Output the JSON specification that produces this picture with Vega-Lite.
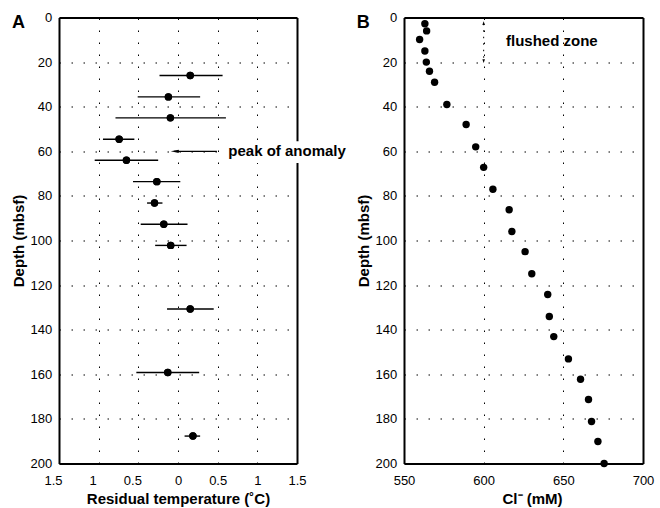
{
  "$schema": "https://vega.github.io/schema/vega-lite/v6.json",
  "padding": {"left": 11, "top": 11.5, "right": 4, "bottom": 2},
  "spacing": 107,
  "bounds": "flush",
  "config": {
    "font": "Liberation Sans",
    "view": {"stroke": null},
    "axis": {
      "domain": true, "domainColor": "#000000", "domainWidth": 2, "domainOpacity": 1,
      "labelFont": "Liberation Sans", "labelFontSize": 13, "labelColor": "#000000", "labelOverlap": false,
      "titleFont": "Liberation Sans", "titleFontSize": 15, "titleFontWeight": "bold", "titleColor": "#000000",
      "grid": true, "gridColor": "#000000", "gridDash": [1.5, 10.5], "gridWidth": 1, "gridOpacity": 1,
      "ticks": false, "titlePadding": 4, "tickCount": 30
    },
    "axisX": {"labelPadding": 11},
    "axisY": {"labelPadding": 7.3}
  },
  "datasets": {
    "temp": [
      {"depth": 26.0, "t": 0.154, "lo": -0.233, "hi": 0.562},
      {"depth": 35.6, "t": -0.121, "lo": -0.508, "hi": 0.279},
      {"depth": 45.0, "t": -0.096, "lo": -0.788, "hi": 0.604},
      {"depth": 54.6, "t": -0.742, "lo": -0.946, "hi": -0.55},
      {"depth": 64.0, "t": -0.65, "lo": -1.05, "hi": -0.25},
      {"depth": 73.6, "t": -0.267, "lo": -0.567, "hi": 0.029},
      {"depth": 83.2, "t": -0.296, "lo": -0.39, "hi": -0.196},
      {"depth": 92.7, "t": -0.179, "lo": -0.47, "hi": 0.12},
      {"depth": 102.2, "t": -0.092, "lo": -0.288, "hi": 0.108},
      {"depth": 130.7, "t": 0.154, "lo": -0.138, "hi": 0.45},
      {"depth": 159.2, "t": -0.129, "lo": -0.525, "hi": 0.267},
      {"depth": 187.7, "t": 0.188, "lo": 0.083, "hi": 0.279}
    ],
    "chloride": [
      {"depth": 2.8, "cl": 563.1},
      {"depth": 6.0, "cl": 564.2},
      {"depth": 9.9, "cl": 559.8},
      {"depth": 15.0, "cl": 563.1},
      {"depth": 20.0, "cl": 564.0},
      {"depth": 24.1, "cl": 566.0},
      {"depth": 29.0, "cl": 569.2},
      {"depth": 39.0, "cl": 576.9},
      {"depth": 48.0, "cl": 589.0},
      {"depth": 58.0, "cl": 595.0},
      {"depth": 67.2, "cl": 600.0},
      {"depth": 77.0, "cl": 605.8},
      {"depth": 86.2, "cl": 616.0},
      {"depth": 96.0, "cl": 617.7},
      {"depth": 105.0, "cl": 626.0},
      {"depth": 114.9, "cl": 630.2},
      {"depth": 124.2, "cl": 640.2},
      {"depth": 134.1, "cl": 641.2},
      {"depth": 143.1, "cl": 644.0},
      {"depth": 153.1, "cl": 653.2},
      {"depth": 162.2, "cl": 660.8},
      {"depth": 171.3, "cl": 665.8},
      {"depth": 181.2, "cl": 667.7},
      {"depth": 190.1, "cl": 671.7},
      {"depth": 200.0, "cl": 675.6}
    ]
  },
  "hconcat": [
    {
      "width": 238,
      "height": 446,
      "view": {"stroke": null},
      "resolve": {"axis": {"x": "independent", "y": "independent"}},
      "layer": [
        {
          "layer": [
            {
              "data": {"name": "temp"},
              "mark": {"type": "point", "filled": true, "size": 55, "color": "black", "opacity": 1},
              "encoding": {
                "x": {"field": "t", "type": "quantitative", "title": "Residual temperature (˚C)",
                      "scale": {"domain": [-1.5, 1.5], "nice": false, "zero": false},
                      "axis": {"values": [-1.5, -1, -0.5, 0, 0.5, 1, 1.5], "tickCount": 30, "labelOverlap": false, "labelFlush": false,
                               "labelExpr": "format(abs(datum.value), '')",
                               "labelOffset": {"condition": {"test": "datum.value < 0", "value": -6}, "value": 0}}},
                "y": {"field": "depth", "type": "quantitative", "title": "Depth (mbsf)",
                      "scale": {"domain": [0, 200], "reverse": true, "nice": false, "zero": false},
                      "axis": {"values": [0, 20, 40, 60, 80, 100, 120, 140, 160, 180, 200], "tickCount": 30, "labelOverlap": false}}
              }
            },
            {
              "data": {"values": [{}]},
              "mark": {"type": "rect", "fill": "white"},
              "encoding": {
                "x": {"datum": 0.58, "type": "quantitative"},
                "x2": {"datum": 2.4},
                "y": {"datum": 55.5, "type": "quantitative"},
                "y2": {"datum": 65.2}
              }
            },
            {
              "data": {"name": "temp"},
              "mark": {"type": "rule", "color": "black", "strokeWidth": 1.4},
              "encoding": {
                "x": {"field": "lo", "type": "quantitative", "title": "Residual temperature (˚C)"},
                "x2": {"field": "hi"},
                "y": {"field": "depth", "type": "quantitative", "title": "Depth (mbsf)"}
              }
            },
            {
              "data": {"name": "temp"},
              "mark": {"type": "point", "filled": true, "size": 55, "color": "black", "opacity": 1},
              "encoding": {
                "x": {"field": "t", "type": "quantitative", "title": "Residual temperature (˚C)"},
                "y": {"field": "depth", "type": "quantitative", "title": "Depth (mbsf)"}
              }
            },
            {
              "data": {"values": [{}]},
              "mark": {"type": "rule", "color": "black", "strokeWidth": 1.2},
              "encoding": {
                "x": {"datum": 0.49, "type": "quantitative"},
                "x2": {"datum": -0.05},
                "y": {"datum": 60, "type": "quantitative"}
              }
            },
            {
              "data": {"values": [{}]},
              "mark": {"type": "point", "filled": true, "color": "black", "opacity": 1, "size": 64, "shape": "M-1,0L1,-0.4L1,0.4Z"},
              "encoding": {
                "x": {"datum": -0.041, "type": "quantitative"},
                "y": {"datum": 60, "type": "quantitative"}
              }
            },
            {
              "data": {"values": [{}]},
              "mark": {"type": "text", "text": "peak of anomaly", "align": "left", "baseline": "middle", "fontSize": 15, "fontWeight": "bold", "font": "Liberation Sans", "color": "black"},
              "encoding": {
                "x": {"datum": 0.634, "type": "quantitative"},
                "y": {"datum": 60, "type": "quantitative"}
              }
            },
            {
              "data": {"values": [{}]},
              "mark": {"type": "text", "text": "A", "align": "left", "baseline": "alphabetic", "fontSize": 18, "fontWeight": "bold", "font": "Liberation Sans", "color": "black"},
              "encoding": {
                "x": {"datum": -2.091, "type": "quantitative"},
                "y": {"datum": 4.6, "type": "quantitative"}
              }
            }
          ]
        },
        {
          "data": {"name": "temp"},
          "mark": {"type": "point", "opacity": 0},
          "encoding": {
            "x": {"field": "t", "type": "quantitative",
                  "axis": {"orient": "top", "labels": false, "grid": false, "title": null, "values": [-1, -0.5, 0, 0.5, 1]}},
            "y": {"field": "depth", "type": "quantitative",
                  "axis": {"orient": "right", "labels": false, "grid": false, "title": null, "values": [20, 40, 60, 80, 100, 120, 140, 160, 180]}}
          }
        }
      ]
    },
    {
      "width": 239,
      "height": 446,
      "view": {"stroke": null},
      "resolve": {"axis": {"x": "independent", "y": "independent"}},
      "layer": [
        {
          "layer": [
            {
              "data": {"name": "chloride"},
              "mark": {"type": "point", "filled": true, "size": 55, "color": "black", "opacity": 1},
              "encoding": {
                "x": {"field": "cl", "type": "quantitative", "title": "Cl⁻ (mM)",
                      "scale": {"domain": [550, 700], "nice": false, "zero": false},
                      "axis": {"values": [550, 600, 650, 700], "titleX": 128, "labelOverlap": false, "labelFlush": false}},
                "y": {"field": "depth", "type": "quantitative", "title": "Depth (mbsf)",
                      "scale": {"domain": [0, 200], "reverse": true, "nice": false, "zero": false},
                      "axis": {"values": [0, 20, 40, 60, 80, 100, 120, 140, 160, 180, 200], "tickCount": 30, "labelOverlap": false}}
              }
            },
            {
              "data": {"values": [{}]},
              "mark": {"type": "rule", "color": "black", "strokeWidth": 1, "strokeDash": [1.5, 5]},
              "encoding": {
                "x": {"datum": 600, "type": "quantitative"},
                "y": {"datum": 2.8, "type": "quantitative"},
                "y2": {"datum": 19.4}
              }
            },
            {
              "data": {"values": [{}]},
              "mark": {"type": "point", "filled": true, "color": "black", "opacity": 1, "size": 14, "shape": "M0,-1L0.7,1L-0.7,1Z"},
              "encoding": {
                "x": {"datum": 600, "type": "quantitative"},
                "y": {"datum": 2.5, "type": "quantitative"}
              }
            },
            {
              "data": {"values": [{}]},
              "mark": {"type": "point", "filled": true, "color": "black", "opacity": 1, "size": 14, "shape": "M0,1L0.7,-1L-0.7,-1Z"},
              "encoding": {
                "x": {"datum": 600, "type": "quantitative"},
                "y": {"datum": 19.6, "type": "quantitative"}
              }
            },
            {
              "data": {"values": [{}]},
              "mark": {"type": "text", "text": "flushed zone", "align": "center", "baseline": "middle", "fontSize": 15, "fontWeight": "bold", "font": "Liberation Sans", "color": "black"},
              "encoding": {
                "x": {"datum": 642.8, "type": "quantitative"},
                "y": {"datum": 10.6, "type": "quantitative"}
              }
            },
            {
              "data": {"values": [{}]},
              "mark": {"type": "text", "text": "B", "align": "left", "baseline": "alphabetic", "fontSize": 18, "fontWeight": "bold", "font": "Liberation Sans", "color": "black"},
              "encoding": {
                "x": {"datum": 520.3, "type": "quantitative"},
                "y": {"datum": 4.6, "type": "quantitative"}
              }
            }
          ]
        },
        {
          "data": {"name": "chloride"},
          "mark": {"type": "point", "opacity": 0},
          "encoding": {
            "x": {"field": "cl", "type": "quantitative",
                  "axis": {"orient": "top", "labels": false, "grid": false, "title": null, "values": [600, 650]}},
            "y": {"field": "depth", "type": "quantitative",
                  "axis": {"orient": "right", "labels": false, "grid": false, "title": null, "values": [20, 40, 60, 80, 100, 120, 140, 160, 180]}}
          }
        }
      ]
    }
  ]
}
